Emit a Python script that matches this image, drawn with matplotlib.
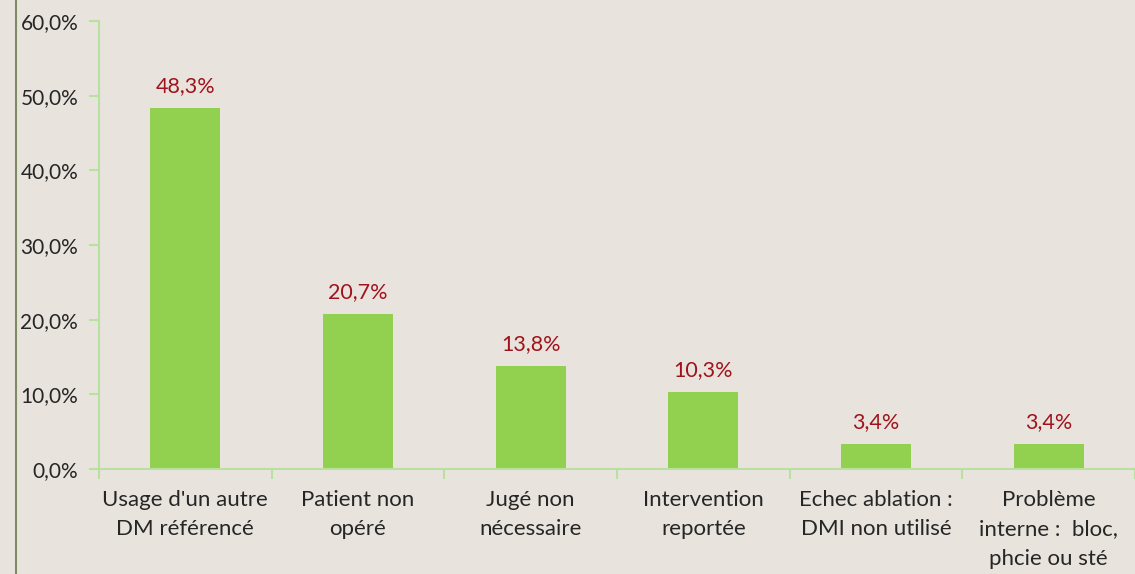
import matplotlib
matplotlib.use("Agg")
import matplotlib.pyplot as plt
from matplotlib.ticker import FuncFormatter
import numpy as np

categories = ["Usage d'un autre\nDM référencé", "Patient non\nopéré", "Jugé non\nnécessaire",
              "Intervention\nreportée", "Echec ablation :\nDMI non utilisé",
              "Problème\ninterne :  bloc,\nphcie ou sté"]
values = [48.3, 20.7, 13.8, 10.3, 3.4, 3.4]
yticks = [0, 10, 20, 30, 40, 50, 60]

bg = "#e8e4dd"
bar_color = "#92d050"
label_color = "#a0121c"
axis_color = "#b8e0a0"

plt.rcParams['font.family'] = ['Lato', 'DejaVu Sans']

fig = plt.figure(figsize=(11.35, 5.74), dpi=100)
fig.patch.set_facecolor(bg)
ax = fig.add_axes([99 / 1135, (574 - 469) / 574, 1 - 99 / 1135, (469 - 21) / 574])
ax.set_facecolor(bg)

x = np.arange(len(categories))
ax.bar(x, values, width=0.405, color=bar_color, zorder=2)
for xi, v in zip(x, values):
    ax.text(xi, v + 1.6, ("%.1f%%" % v).replace(".", ","), ha="center", va="bottom",
            color=label_color, fontsize=15.5)

ax.set_xlim(-0.5, len(categories) - 0.5)
ax.set_ylim(0, 60)
ax.set_yticks(yticks)
ax.yaxis.set_major_formatter(FuncFormatter(lambda v, p: ("%.1f%%" % v).replace(".", ",")))
ax.set_xticks(x)
ax.set_xticklabels(categories, fontsize=16, color="#262626", linespacing=1.6)
ax.set_xticks(np.arange(-0.5, len(categories)), minor=True)
ax.tick_params(axis="x", which="major", length=0, pad=15)
ax.tick_params(axis="x", which="minor", length=7, color=axis_color, width=1.5)
ax.tick_params(axis="y", length=7, color=axis_color, width=1.5, labelsize=15,
               labelcolor="#262626", pad=8)

for s in ["top", "right"]:
    ax.spines[s].set_visible(False)
for s in ["left", "bottom"]:
    ax.spines[s].set_color(axis_color)
    ax.spines[s].set_linewidth(1.5)

# thin vertical rule at the far left
fig.add_artist(plt.Line2D([16 / 1135, 16 / 1135], [0, 1], color="#7d8a62", linewidth=1.5))

fig.savefig("out.png", dpi=100, facecolor=bg)
